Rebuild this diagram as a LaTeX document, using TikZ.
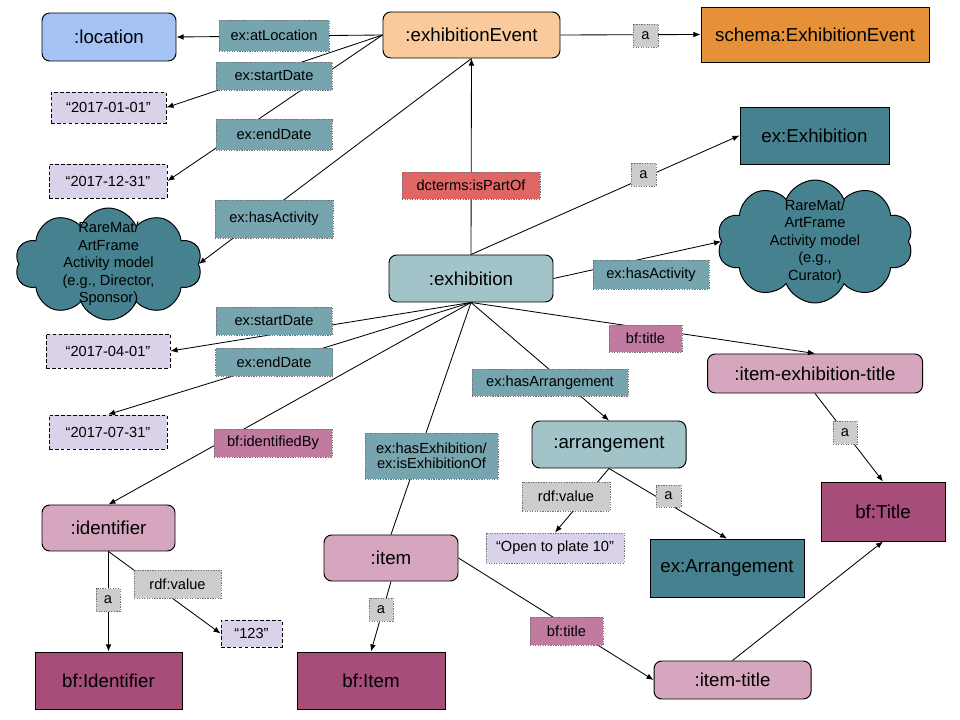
\documentclass[tikz,border=0pt]{standalone}
\usepackage{fontspec}
\setmainfont{Liberation Sans}
\usetikzlibrary{arrows.meta,shapes.symbols}
\definecolor{cLoc}{HTML}{A4C2F4}
\definecolor{cEE}{HTML}{F9CB9C}
\definecolor{cSchema}{HTML}{E69138}
\definecolor{cLit}{HTML}{D9D2E9}
\definecolor{cTeal}{HTML}{45818E}
\definecolor{cTealL}{HTML}{A2C4C9}
\definecolor{cTealM}{HTML}{76A5AF}
\definecolor{cRed}{HTML}{E06666}
\definecolor{cGray}{HTML}{CCCCCC}
\definecolor{cPinkL}{HTML}{D5A6BD}
\definecolor{cPinkM}{HTML}{C27BA0}
\definecolor{cPinkD}{HTML}{A64D79}
\tikzset{
  sz/.style 2 args={minimum width=#1*0.025cm, minimum height=#2*0.025cm},
  base/.style={draw=black, line width=0.7pt, inner sep=0pt, align=center, text=black},
  bigf/.style={font=\fontsize{13.3}{16}\selectfont},
  smallf/.style={font=\fontsize{10.4}{10.7}\selectfont},
  rnd/.style={base, bigf, rounded corners=5.5pt},
  cls/.style={base, bigf},
  lit/.style={base, smallf, fill=cLit, dash pattern=on 2.6pt off 1.6pt},
  lbl/.style={draw=black!55, line width=0.6pt, dash pattern=on 0.9pt off 0.9pt, inner sep=0pt, smallf, align=center, text=black},
  cloudnode/.style={cloud, cloud puffs=10, cloud puff arc=135, cloud ignores aspect, draw=black, line width=0.7pt, fill=cTeal, inner sep=0pt},
  cloudtext/.style={align=center, inner sep=0pt, text=black, font=\fontsize{10.4}{12.45}\selectfont},
  conn/.style={line width=0.6pt, draw=black},
  arr/.style={conn, -{Latex[length=5pt,width=4pt]}},
}
\begin{document}
\begin{tikzpicture}[x=0.025cm, y=-0.025cm]
\useasboundingbox (0,0) rectangle (960,720);
% main nodes
\node[rnd, fill=cLoc, sz={134}{48}] (loc) at (109,37) {:location};
\node[rnd, fill=cEE, sz={177}{46}] (ee) at (471.5,35) {:exhibitionEvent};
\node[cls, fill=cSchema, sz={228}{55}] (schema) at (815,34.5) {schema:ExhibitionEvent};
\node[lit, sz={115}{31}] (d1) at (108.5,107.5) {“2017-01-01”};
\node[lit, sz={118}{34}] (d2) at (108,181) {“2017-12-31”};
\node[cloudnode, sz={187}{112}, label={[cloudtext]center:{RareMat/\\ArtFrame\\Activity model\\(e.g., Director,\\Sponsor)}}] (cl) at (108.5,264) {};
\node[cls, fill=cTeal, sz={149}{57}] (exE) at (814.5,135.5) {ex:Exhibition};
\node[cloudnode, sz={196}{123}, label={[cloudtext]center:{RareMat/\\ArtFrame\\Activity model\\(e.g.,\\Curator)}}] (cr) at (815,241.5) {};
\node[rnd, fill=cTealL, sz={164}{47}] (ex) at (471,278.5) {:exhibition};
\node[lit, sz={124}{34}] (d3) at (108,351) {“2017-04-01”};
\node[lit, sz={118}{34}] (d4) at (108,432) {“2017-07-31”};
\node[rnd, fill=cPinkL, sz={215}{39}] (iet) at (815,373.5) {:item-exhibition-title};
\node[rnd, fill=cTealL, sz={154}{47}] (arr) at (609,444.5) {:arrangement};
\node[cls, fill=cPinkD, sz={124}{59}] (bfT) at (883,511.5) {bf:Title};
\node[lbl, fill=cLit, sz={138}{30}] (open) at (555,548) {“Open to plate 10”};
\node[cls, fill=cTeal, sz={154}{58}] (exA) at (727,568) {ex:Arrangement};
\node[rnd, fill=cPinkL, sz={133}{46}] (id) at (108.5,528) {:identifier};
\node[rnd, fill=cPinkL, sz={134}{46}] (item) at (391,558) {:item};
\node[cls, fill=cPinkD, sz={147}{57}] (bfI) at (108.5,680.5) {bf:Identifier};
\node[cls, fill=cPinkD, sz={148}{57}] (bfIt) at (371,680.5) {bf:Item};
\node[lit, sz={61}{27}] (v123) at (251.5,633.5) {“123”};
\node[rnd, fill=cPinkL, sz={157}{38}] (it) at (732.5,680) {:item-title};
% connectors
\draw[arr] (ee.west) -- (loc.east);
\draw[arr] (ee.west) -- (d1.east);
\draw[arr] (ee.west) -- (d2.east);
\draw[arr] (ee.south) -- (cl.east);
\draw[arr] (ee.east) -- (schema.west);
\draw[arr] (ex.north) -- (ee.south);
\draw[arr] (ex.north) -- (exE.west);
\draw[arr] (ex.east) -- (cr.west);
\draw[arr] (ex.south) -- (d3.east);
\draw[arr] (ex.south) -- (d4.north);
\draw[arr] (ex.south) -- (id.north);
\draw[arr] (ex.south) -- (iet.north);
\draw[arr] (ex.south) -- (arr.north);
\draw[conn] (ex.south) -- (item.north);
\draw[arr] (iet.south) -- (bfT.north);
\draw[arr] (arr.south) -- (open.north);
\draw[arr] (arr.south) -- (exA.north);
\draw[arr] (id.south) -- (bfI.north);
\draw[arr] (id.south) -- (v123.west);
\draw[arr] (item.south) -- (bfIt.north);
\draw[arr] (item.east) -- (it.west);
\draw[arr] (it.north) -- (bfT.south);
% labels
\node[lbl, fill=cTealM, sz={110}{31}] (l1) at (274,35.5) {ex:atLocation};
\node[lbl, fill=cTealM, sz={116}{28}] (l2) at (274,76) {ex:startDate};
\node[lbl, fill=cTealM, sz={116}{31}] (l3) at (274,134.5) {ex:endDate};
\node[lbl, fill=cTealM, sz={118}{38}] (l4) at (274,219) {ex:hasActivity};
\node[lbl, fill=cRed, sz={138}{27}] (l5) at (471,185.5) {dcterms:isPartOf};
\node[lbl, fill=cGray, sz={25}{23}] (l6) at (645.5,35.5) {a};
\node[lbl, fill=cGray, sz={25}{23}] (l7) at (643.5,174.5) {a};
\node[lbl, fill=cTealM, sz={116}{29}] (l8) at (651,274.5) {ex:hasActivity};
\node[lbl, fill=cTealM, sz={116}{28}] (l9) at (274,321) {ex:startDate};
\node[lbl, fill=cTealM, sz={117}{28}] (l10) at (274,362) {ex:endDate};
\node[lbl, fill=cPinkM, sz={73}{27}] (l11) at (645.5,338.5) {bf:title};
\node[lbl, fill=cTealM, sz={156}{27}] (l12) at (550,382.5) {ex:hasArrangement};
\node[lbl, fill=cPinkM, sz={118}{28}] (l13) at (273,443) {bf:identifiedBy};
\node[lbl, fill=cTealM, sz={133}{46}] (l14) at (431.5,456) {ex:hasExhibition/\\ex:isExhibitionOf};
\node[lbl, fill=cGray, sz={24}{23}] (l15) at (845,432.5) {a};
\node[lbl, fill=cGray, sz={88}{29}] (l16) at (566,496.5) {rdf:value};
\node[lbl, fill=cGray, sz={25}{22}] (l17) at (668.5,496) {a};
\node[lbl, fill=cGray, sz={87}{28}] (l18) at (177.5,584) {rdf:value};
\node[lbl, fill=cGray, sz={24}{23}] (l19) at (108,600) {a};
\node[lbl, fill=cGray, sz={24}{23}] (l20) at (381,609.5) {a};
\node[lbl, fill=cPinkM, sz={73}{28}] (l21) at (566.5,631) {bf:title};
\end{tikzpicture}
\end{document}
